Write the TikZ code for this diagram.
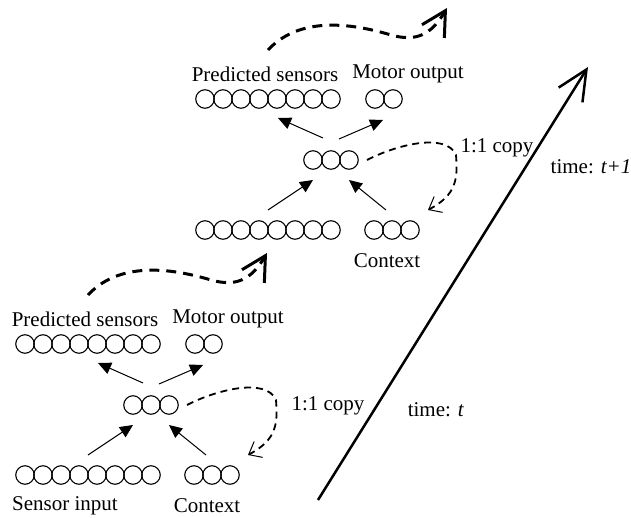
\documentclass[tikz,border=0pt]{standalone}
\usepackage{fontspec}
\setmainfont{Liberation Serif}
\usetikzlibrary{arrows.meta}
\begin{document}
\begin{tikzpicture}[x=1pt,y=-1pt,
  txt/.style={font=\fontsize{21}{25}\selectfont, inner sep=0pt},
  unit/.style={circle, draw, line width=1.1pt, minimum size=18.5pt, inner sep=0pt},
  conn/.style={line width=1pt, -{Triangle[length=13pt,width=12pt]}},
  copyarr/.style={line width=1.8pt, dash pattern=on 7pt off 5pt, -{Straight Barb[length=11pt,width=18pt,line width=1pt]}},
  nextarr/.style={line width=3pt, dash pattern=on 10pt off 7pt, -{Straight Barb[length=24pt,width=26pt]}},
  timearr/.style={line width=2.5pt, -{Straight Barb[length=30pt,width=28pt]}}]
\useasboundingbox (0,0) rectangle (631,518);
\foreach \hx/\hy/\p in {151/405/L, 331/160/U}{
\begin{scope}[shift={(\hx,\hy)}, name prefix=\p-]
  \foreach \i in {0,...,7}{
    \node[unit] (p\i) at ({-126+18*\i},-61) {};
    \node[unit] (s\i) at ({-126+18*\i},70) {};
  }
  \foreach \i in {0,1}{ \node[unit] (m\i) at ({44+18*\i},-61) {}; }
  \foreach \i in {0,1,2}{
    \node[unit] (h\i) at ({-18+18*\i},0) {};
    \node[unit] (c\i) at ({43+18*\i},70) {};
  }
  \node[txt] (pt) at (-66,-86) {Predicted sensors};
  \node[txt] (mt) at (77,-86) {Motor output};
  \node[txt] (ct) at (56,101) {Context};
  \coordinate (a1s) at (-8,-22);  \coordinate (a1e) at (-53,-42);
  \coordinate (a2s) at (8,-21);   \coordinate (a2e) at (52,-40);
  \coordinate (a3s) at (-63,50);  \coordinate (a3e) at (-18,20);
  \coordinate (a4s) at (55,50);   \coordinate (a4e) at (18,20);
  \draw[conn] (a1s) -- (a1e);
  \draw[conn] (a2s) -- (a2e);
  \draw[conn] (a3s) -- (a3e);
  \draw[conn] (a4s) -- (a4e);
  \coordinate (cs) at (36,0); \coordinate (ce) at (97,50);
  \draw[copyarr] (cs) .. controls (65,-15) and (115,-28) .. (125,-5) .. controls (127,20) and (125,35) .. (ce);
  \coordinate (ds) at (-63,-110); \coordinate (de) at (116,-152);
  \draw[nextarr] (ds) .. controls (-35,-140) and (10,-140) .. (60,-125) .. controls (85,-118) and (100,-125) .. (de);
\end{scope}
}
\node[txt] (si) at (65,506) {Sensor input};
\node[txt] (cp1) at (328,406) {1:1 copy};
\node[txt] (cp2) at (497,148) {1:1 copy};
\node[txt] (tt) at (436,410) {time: \textit{t}};
\node[txt] (tt1) at (591,167) {time: \textit{t+1}};
\coordinate (t0) at (318,500); \coordinate (t1) at (588,67);
\draw[timearr] (t0) -- (t1);
\end{tikzpicture}
\end{document}
